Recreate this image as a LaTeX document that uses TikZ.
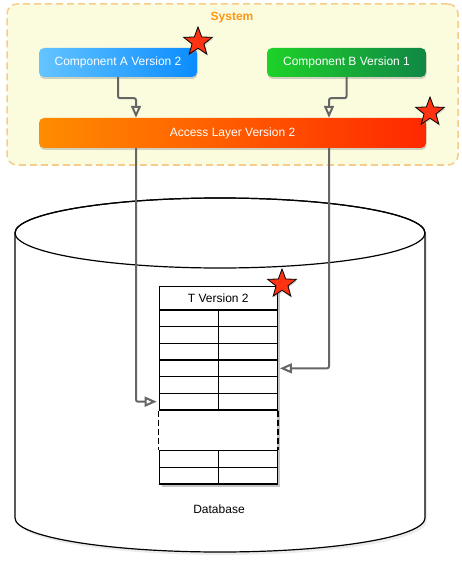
\documentclass[tikz,border=0pt]{standalone}
\usepackage{fontspec}
\setmainfont{Liberation Sans}
\usetikzlibrary{arrows.meta,shapes.geometric,shadows}

\definecolor{sysfill}{RGB}{251,252,222}
\definecolor{sysedge}{RGB}{246,204,140}
\definecolor{sysorange}{RGB}{255,150,20}
\definecolor{flowgray}{RGB}{102,102,102}
\definecolor{starred}{RGB}{255,51,17}

\begin{document}
\begin{tikzpicture}[
    x=1pt,
    y=-1pt,
    >={Triangle[open,length=12pt,width=10pt]},
    every node/.style={font=\fontsize{12}{14}\selectfont},
    comp/.style={rounded corners=5pt, minimum height=29, text=white, inner sep=0pt,
        drop shadow={opacity=0.35, shadow xshift=0.5pt, shadow yshift=-2pt}},
    flow/.style={->, draw=flowgray, line width=2pt, rounded corners=2pt},
    cell/.style={draw, line width=1.3pt, fill=white, minimum width=59,
        minimum height=16.67, inner sep=0pt},
    redstar/.style={star, star points=5, star point ratio=2.4, draw=black,
        line width=0.8pt, fill=starred, minimum size=30, inner sep=0pt,
        drop shadow={opacity=0.3, shadow xshift=1pt, shadow yshift=-1.5pt}}
]
\useasboundingbox (0,0) rectangle (461,572);

% system frame
\node[draw=sysedge, fill=sysfill, dash pattern=on 7pt off 4pt, line width=1.5pt,
    rounded corners=10pt, minimum width=451, minimum height=161, inner sep=0pt]
    (system) at (232.5,84.5) {};
\node[font=\fontsize{12}{14}\selectfont\bfseries, text=sysorange] (syslabel) at (232,18) {System};

% components
\node[comp, minimum width=158, left color={rgb,255:red,100;green,196;blue,255},
    right color={rgb,255:red,10;green,140;blue,255}] (compA) at (118,62.5) {Component A Version 2};
\node[comp, minimum width=159, left color={rgb,255:red,30;green,210;blue,40},
    right color={rgb,255:red,16;green,135;blue,70}] (compB) at (346.5,62.5) {Component B Version 1};
\node[comp, minimum width=387, minimum height=30, left color={rgb,255:red,255;green,140;blue,0},
    right color={rgb,255:red,255;green,40;blue,0}] (access) at (232.5,133) {Access Layer Version 2};

\coordinate (colA) at (136,0);
\coordinate (colB) at (329,0);

\draw[flow] (compA.south) -- ++(0,21) -| (access.north -| colA);
\draw[flow] (compB.south) -- ++(0,21) -| (access.north -| colB);

% database
\draw[line width=1.2pt, fill=white, drop shadow={opacity=0.15, shadow xshift=2pt, shadow yshift=-3pt}]
    (15,233) -- (15,518) arc[start angle=180, end angle=0, x radius=205, y radius=34]
    -- (425,233) arc[start angle=0, end angle=-180, x radius=205, y radius=35] -- cycle;
\draw[line width=1.2pt] (220,233) ellipse[x radius=205, y radius=35];
\node (dblabel) at (219,509) {Database};

% table
\node[fill=white, minimum width=118, minimum height=197.3, inner sep=0pt,
    drop shadow={opacity=0.45, shadow xshift=3pt, shadow yshift=-3pt}] (table) at (218.3,385.4) {};
\node[cell, minimum width=118, minimum height=23.3] (thead) at (218.3,298.3) {T Version 2};
\foreach \i in {1,...,6} {
    \node[cell] (a\i) at (188.8,301.67+16.67*\i) {};
    \node[cell] (b\i) at (247.8,301.67+16.67*\i) {};
}
\foreach \i/\y in {7/459, 8/475.7} {
    \node[cell] (a\i) at (188.8,\y) {};
    \node[cell] (b\i) at (247.8,\y) {};
}
\draw[dash pattern=on 6pt off 3pt, line width=1.3pt] (a6.south west) -- (a7.north west);
\draw[dash pattern=on 6pt off 3pt, line width=1.3pt] (b6.south east) -- (b7.north east);

\draw[flow, shorten >=2pt] (access.south -| colA) |- (a6.west);
\draw[flow, shorten >=2pt] (access.south -| colB) |- (b4.east);

% changed parts
\node[redstar] (starA) at (198,42) {};
\node[redstar] (starAcc) at (430,112) {};
\node[redstar] (starT) at (282,284) {};

\end{tikzpicture}
\end{document}
